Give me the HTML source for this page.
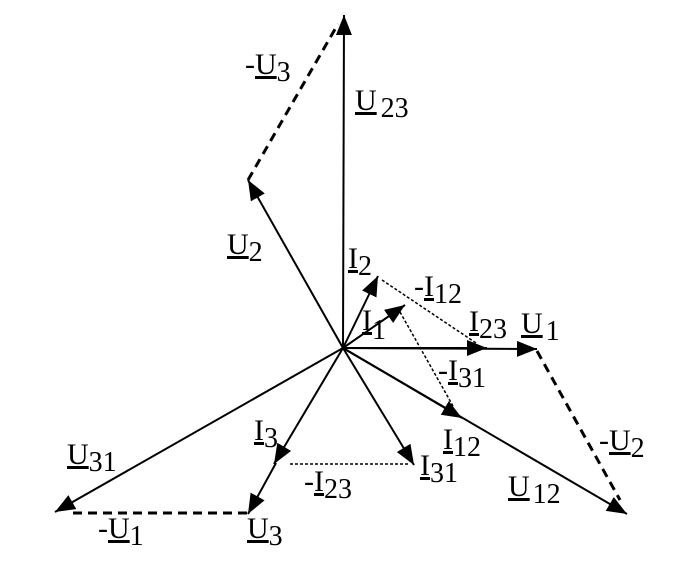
<!DOCTYPE html>
<html><head><style>
html,body{margin:0;padding:0;background:#fff;}
svg{display:block;}
text{font-family:"Liberation Serif",serif;fill:#000;}
.m{font-size:30px;}
.s{font-size:28px;}
</style></head><body>
<svg width="675" height="572" viewBox="0 0 675 572" xmlns="http://www.w3.org/2000/svg">
<defs>
<marker id="a" markerUnits="userSpaceOnUse" markerWidth="24" markerHeight="20" refX="20" refY="8" orient="auto">
<path d="M0,0 L20,8 L0,16 Z" fill="#000"/>
</marker>
</defs>
<g stroke="#000" fill="none">
<line x1="343" y1="348" x2="344" y2="15" stroke-width="2" marker-end="url(#a)"/>
<line x1="343" y1="348" x2="248" y2="180" stroke-width="2" marker-end="url(#a)"/>
<line x1="343" y1="348" x2="537" y2="349" stroke-width="2" marker-end="url(#a)"/>
<line x1="343" y1="348" x2="627" y2="514" stroke-width="2" marker-end="url(#a)"/>
<line x1="343" y1="348" x2="55" y2="512" stroke-width="2" marker-end="url(#a)"/>
<line x1="276" y1="463" x2="248" y2="514" stroke-width="2" marker-end="url(#a)"/>
<line x1="343" y1="348" x2="378" y2="276" stroke-width="2" marker-end="url(#a)"/>
<line x1="343" y1="348" x2="405" y2="305" stroke-width="2" marker-end="url(#a)"/>
<line x1="343" y1="348" x2="487" y2="348" stroke-width="2" marker-end="url(#a)"/>
<line x1="343" y1="348" x2="462" y2="418" stroke-width="2" marker-end="url(#a)"/>
<line x1="343" y1="348" x2="414" y2="465" stroke-width="2" marker-end="url(#a)"/>
<line x1="343" y1="348" x2="274" y2="464" stroke-width="2" marker-end="url(#a)"/>
<line x1="248" y1="180" x2="338" y2="24" stroke-width="3" stroke-dasharray="9,6"/>
<line x1="537" y1="351" x2="620" y2="500" stroke-width="3" stroke-dasharray="9,6"/>
<line x1="247" y1="513" x2="72" y2="513" stroke-width="3" stroke-dasharray="9,6"/>
<line x1="382" y1="280" x2="476" y2="343" stroke-width="1.5" stroke-dasharray="3,2"/>
<line x1="400" y1="312" x2="453" y2="406" stroke-width="1.5" stroke-dasharray="3,2"/>
<line x1="408" y1="464" x2="290" y2="464" stroke-width="1.5" stroke-dasharray="3,2"/>
</g>
<text x="245" y="74" class="m">-<tspan text-decoration="underline">U</tspan><tspan class="s" dy="7">3</tspan></text>
<text x="355" y="110" class="m"><tspan text-decoration="underline">U</tspan><tspan class="s" dx="4" dy="7">23</tspan></text>
<text x="227" y="254" class="m"><tspan text-decoration="underline">U</tspan><tspan class="s" dy="7">2</tspan></text>
<text x="348" y="268" class="m"><tspan text-decoration="underline">I</tspan><tspan class="s" dy="7">2</tspan></text>
<text x="414" y="296" class="m">-<tspan text-decoration="underline">I</tspan><tspan class="s" dy="7">12</tspan></text>
<text x="362" y="330" class="m"><tspan text-decoration="underline">I</tspan><tspan class="s" dy="9">1</tspan></text>
<text x="469" y="331" class="m"><tspan text-decoration="underline">I</tspan><tspan class="s" dy="7">23</tspan></text>
<text x="521" y="333" class="m"><tspan text-decoration="underline">U</tspan><tspan class="s" dx="3" dy="7">1</tspan></text>
<text x="438" y="380" class="m">-<tspan text-decoration="underline">I</tspan><tspan class="s" dy="7">31</tspan></text>
<text x="443" y="449" class="m"><tspan text-decoration="underline">I</tspan><tspan class="s" dy="7">12</tspan></text>
<text x="420" y="475" class="m"><tspan text-decoration="underline">I</tspan><tspan class="s" dy="7">31</tspan></text>
<text x="254" y="440" class="m"><tspan text-decoration="underline">I</tspan><tspan class="s" dy="7">3</tspan></text>
<text x="304" y="491" class="m">-<tspan text-decoration="underline">I</tspan><tspan class="s" dy="7">23</tspan></text>
<text x="67" y="464" class="m"><tspan text-decoration="underline">U</tspan><tspan class="s" dy="7">31</tspan></text>
<text x="98" y="538" class="m">-<tspan text-decoration="underline">U</tspan><tspan class="s" dy="7">1</tspan></text>
<text x="247" y="538" class="m"><tspan text-decoration="underline">U</tspan><tspan class="s" dy="7">3</tspan></text>
<text x="508" y="496" class="m"><tspan text-decoration="underline">U</tspan><tspan class="s" dx="3" dy="7">12</tspan></text>
<text x="599" y="450" class="m">-<tspan text-decoration="underline">U</tspan><tspan class="s" dy="7">2</tspan></text>
</svg>
</body></html>
